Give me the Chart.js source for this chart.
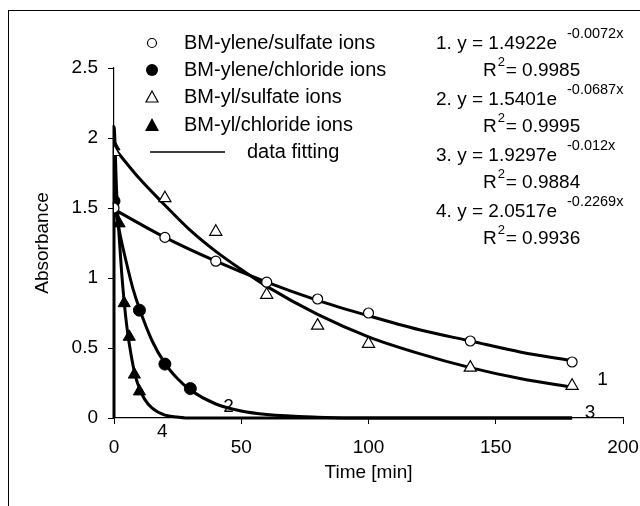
<!DOCTYPE html>
<html>
<head>
<meta charset="utf-8">
<script src="https://cdn.jsdelivr.net/npm/chart.js@4.4.1/dist/chart.umd.min.js"></script>
<style>
  html, body { margin: 0; padding: 0; background: #fff; }
  #wrap { width: 640px; height: 506px; }
</style>
</head>
<body>
<div id="wrap"><canvas id="myChart"></canvas></div>
<script>
// measured points
const tSulfYlene = [0, 20, 40, 60, 80, 100, 140, 180];
const aSulfYlene = [1.50, 1.29, 1.12, 0.97, 0.85, 0.75, 0.55, 0.40];
const tChlYlene = [0, 10, 20, 30];
const aChlYlene = [1.55, 0.77, 0.385, 0.21];
const tSulfYl = [0, 20, 40, 60, 80, 100, 140, 180];
const aSulfYl = [1.90, 1.57, 1.33, 0.88, 0.66, 0.53, 0.36, 0.23];
const tChlYl = [0, 2, 4, 6, 8, 10];
const aChlYl = [1.94, 1.39, 0.82, 0.58, 0.31, 0.19];

// fitted curves
const fitT1 = [0, 20, 40, 60, 80, 100, 120, 140, 160, 180];
const fitA1 = [1.49, 1.29, 1.12, 0.97, 0.84, 0.73, 0.63, 0.55, 0.47, 0.41];
const fitT2 = [0, 2.5, 5, 7.5, 10, 15, 20, 25, 30, 40, 50, 60, 80, 100, 180];
const fitA2 = [1.54, 1.30, 1.10, 0.92, 0.78, 0.55, 0.39, 0.28, 0.20, 0.10, 0.05, 0.025, 0.006, 0, 0];
const fitT3 = [0, 10, 20, 30, 40, 50, 60, 80, 100, 120, 140, 160, 180];
const fitA3 = [1.93, 1.71, 1.52, 1.34, 1.19, 1.06, 0.94, 0.74, 0.58, 0.46, 0.36, 0.28, 0.22];
const fitT4 = [0, 0, 1, 2, 3, 4, 5, 6, 8, 10, 12, 15, 20, 25, 30, 180];
const fitA4 = [0, 2.08, 1.63, 1.30, 1.04, 0.83, 0.66, 0.53, 0.33, 0.21, 0.135, 0.07, 0.02, 0.007, 0, 0];

const legendNames = ["BM-ylene/sulfate ions", "BM-ylene/chloride ions", "BM-yl/sulfate ions", "BM-yl/chloride ions", "data fitting"];
const eqMain = ["1. y = 1.4922e", "2. y = 1.5401e", "3. y = 1.9297e", "4. y = 2.0517e"];
const eqExp = ["-0.0072x", "-0.0687x", "-0.012x", "-0.2269x"];
const eqR2 = ["= 0.9985", "= 0.9995", "= 0.9884", "= 0.9936"];

// curve number labels: [text, time, absorbance]
const curveLabels = [["1", 192, 0.27], ["3", 187, 0.04], ["4", 19, -0.10], ["2", 45, 0.08]];

const FONT = "'Liberation Sans', Arial, sans-serif";
const pts = (xs, ys) => xs.map((x, i) => ({ x: x, y: ys[i] }));

const fitStyle = {
  showLine: true, borderColor: '#000', borderWidth: 3, pointRadius: 0,
  tension: 0.4, cubicInterpolationMode: 'monotone', clip: 6
};

const extras = {
  id: 'extras',
  beforeDraw(chart) {
    const c = chart.ctx;
    c.save();
    c.strokeStyle = '#000';
    c.lineWidth = 1;
    c.strokeRect(8.5, 10.5, 700, 600);
    c.restore();
  },
  afterDraw(chart) {
    const c = chart.ctx;
    const xs = chart.scales.x, ys = chart.scales.y;
    c.save();
    c.fillStyle = '#000';
    c.strokeStyle = '#000';
    c.textBaseline = 'middle';

    // legend
    const lx = 152, tx = 184;
    const rows = [43, 70, 97, 125, 152];
    c.lineWidth = 1.2;
    c.beginPath(); c.arc(lx, rows[0], 4.5, 0, Math.PI * 2); c.stroke();
    c.beginPath(); c.arc(lx, rows[1], 6, 0, Math.PI * 2); c.fill();
    c.beginPath(); c.moveTo(lx, rows[2] - 6); c.lineTo(lx + 6, rows[2] + 5); c.lineTo(lx - 6, rows[2] + 5); c.closePath(); c.stroke();
    c.beginPath(); c.moveTo(lx, rows[3] - 7); c.lineTo(lx + 7, rows[3] + 6); c.lineTo(lx - 7, rows[3] + 6); c.closePath(); c.fill();
    c.lineWidth = 1.5;
    c.beginPath(); c.moveTo(150, rows[4]); c.lineTo(225, rows[4]); c.stroke();
    c.font = '20px ' + FONT;
    c.textAlign = 'left';
    for (let i = 0; i < 4; i++) c.fillText(legendNames[i], tx, rows[i]);
    c.fillText(legendNames[4], 247, rows[4]);

    // equations
    for (let i = 0; i < 4; i++) {
      const y = 44 + i * 56;
      c.font = '19px ' + FONT;
      c.textAlign = 'right';
      c.fillText(eqMain[i], 557, y);
      c.textAlign = 'left';
      c.font = '14.5px ' + FONT;
      c.fillText(eqExp[i], 567, y - 10);
      const ry = y + 27;
      c.font = '19px ' + FONT;
      c.fillText('R', 483, ry);
      const rw = c.measureText('R').width;
      c.font = '13px ' + FONT;
      c.fillText('2', 483 + rw + 1, ry - 9);
      c.font = '19px ' + FONT;
      c.fillText(eqR2[i], 483 + rw + 9, ry);
    }

    // curve numbers
    c.font = '19px ' + FONT;
    c.textAlign = 'center';
    curveLabels.forEach(l => c.fillText(l[0], xs.getPixelForValue(l[1]), ys.getPixelForValue(l[2])));
    c.restore();
  }
};

new Chart(document.querySelector('#myChart'), {
  type: 'scatter',
  data: {
    datasets: [
      { data: pts(tSulfYlene, aSulfYlene), pointStyle: 'circle', pointRadius: 5, backgroundColor: '#fff', borderColor: '#000', borderWidth: 1.2, order: 0 },
      { data: pts(tChlYlene, aChlYlene), pointStyle: 'circle', pointRadius: 6, backgroundColor: '#000', borderColor: '#000', borderWidth: 1, order: 0 },
      { data: pts(tSulfYl, aSulfYl), pointStyle: 'triangle', pointRadius: 7, backgroundColor: '#fff', borderColor: '#000', borderWidth: 1.2, order: 0 },
      { data: pts(tChlYl, aChlYl), pointStyle: 'triangle', pointRadius: 7, backgroundColor: '#000', borderColor: '#000', borderWidth: 1, order: 0 },
      Object.assign({ data: pts(fitT1, fitA1), order: 1 }, fitStyle),
      Object.assign({ data: pts(fitT2, fitA2), order: 1 }, fitStyle),
      Object.assign({ data: pts(fitT3, fitA3), order: 1 }, fitStyle),
      Object.assign({ data: pts(fitT4, fitA4), order: 1 }, fitStyle)
    ]
  },
  options: {
    responsive: true,
    maintainAspectRatio: false,
    animation: false,
    layout: { padding: { left: 0, top: 68, right: 17, bottom: 0 } },
    plugins: { legend: { display: false }, tooltip: { enabled: false } },
    scales: {
      x: {
        type: 'linear', min: 0, max: 200,
        ticks: { stepSize: 50, color: '#000', font: { family: FONT, size: 19 }, padding: 12, maxRotation: 0 },
        grid: { drawOnChartArea: false, drawTicks: true, tickLength: 6, color: '#000' },
        border: { color: '#000', width: 1.2 },
        title: { display: true, text: 'Time [min]', color: '#000', font: { family: FONT, size: 19 }, padding: { top: 0, bottom: 22 } },
        afterFit: s => { s.height = 88; s.paddingLeft = 0; s.paddingRight = 0; }
      },
      y: {
        min: 0, max: 2.5,
        ticks: { stepSize: 0.5, color: '#000', font: { family: FONT, size: 19 }, padding: 10, callback: v => String(v) },
        grid: { drawOnChartArea: false, drawTicks: true, tickLength: 6, color: '#000' },
        border: { color: '#000', width: 1.2 },
        title: { display: true, text: 'Absorbance', color: '#000', font: { family: FONT, size: 19 }, padding: { top: 31 } },
        afterFit: s => { s.width = 114; }
      }
    }
  },
  plugins: [extras]
});
</script>
</body>
</html>
